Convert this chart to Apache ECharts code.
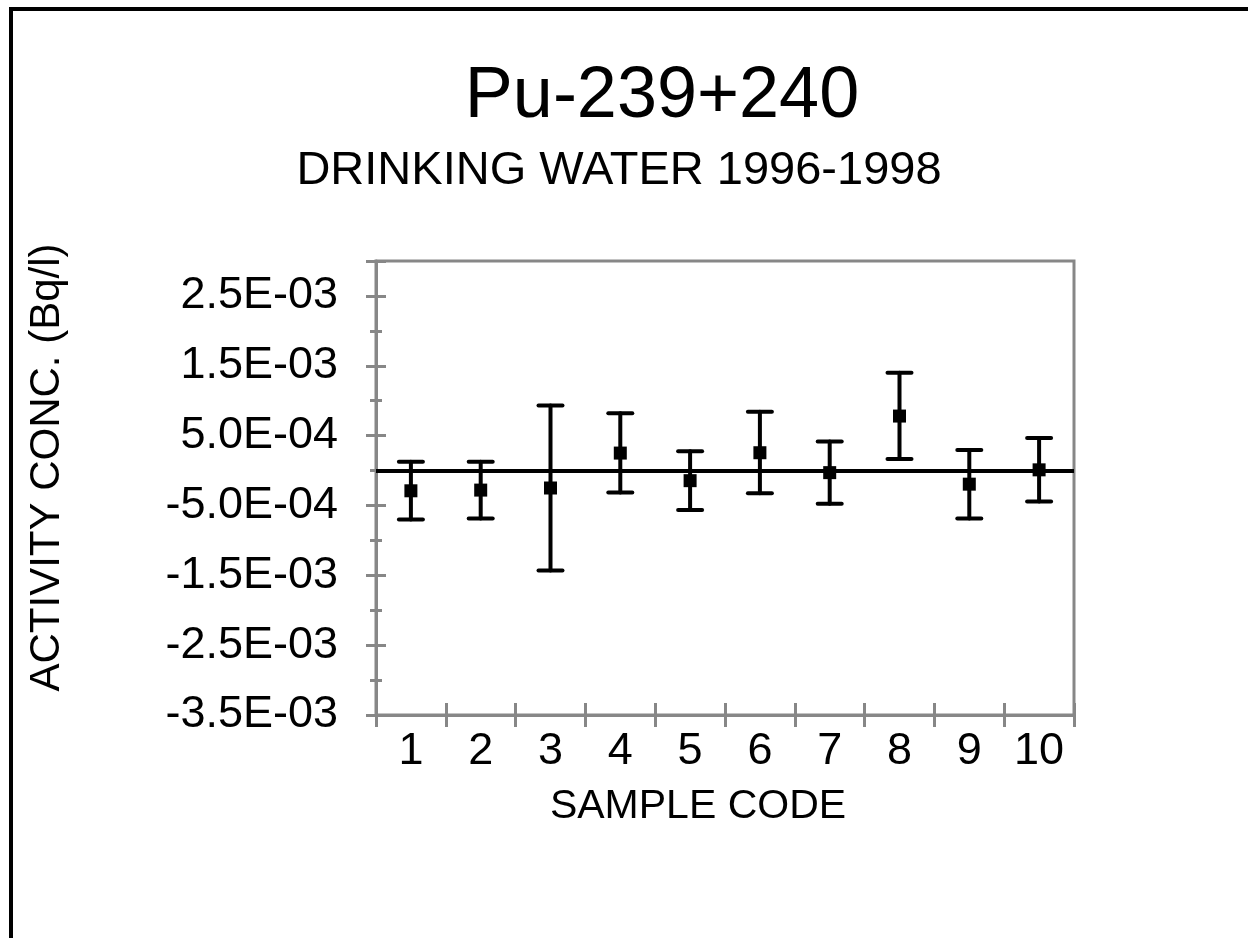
<!DOCTYPE html>
<html>
<head>
<meta charset="utf-8">
<script src="https://cdn.jsdelivr.net/npm/echarts@6/dist/echarts.min.js"></script>
<style>
html, body { margin: 0; padding: 0; background: #ffffff; }
#chart { width: 1248px; height: 938px; }
</style>
</head>
<body>
<div id="chart"></div>
<script>
// ---- data ----
var categories = ['1', '2', '3', '4', '5', '6', '7', '8', '9', '10'];
var values = [-2.9e-4, -2.8e-4, -2.5e-4, 2.5e-4, -1.45e-4, 2.55e-4, -3.0e-5, 7.8e-4, -1.95e-4, 1.0e-5];
var lower  = [-7.0e-4, -6.85e-4, -1.43e-3, -3.15e-4, -5.65e-4, -3.25e-4, -4.75e-4, 1.65e-4, -6.85e-4, -4.45e-4];
var upper  = [1.25e-4, 1.25e-4, 9.3e-4, 8.2e-4, 2.75e-4, 8.4e-4, 4.15e-4, 1.4e-3, 2.95e-4, 4.65e-4];
var yTickLabels = ['-3.5E-03', '-2.5E-03', '-1.5E-03', '-5.0E-04', '5.0E-04', '1.5E-03', '2.5E-03'];
var yMin = -0.0035, yMax = 0.003;

var FONT = 'Liberation Sans, Arial, Helvetica, sans-serif';
var GRAY = '#878787';

var errData = categories.map(function (c, i) { return [i, lower[i], upper[i]]; });

function yAxisBase(interval, inside, len, extra) {
  var a = {
    type: 'value', gridIndex: 0, position: 'left', min: yMin, max: yMax, interval: interval,
    axisLine: { show: false, onZero: false },
    axisTick: { show: true, inside: inside, length: len, lineStyle: { color: GRAY, width: 3 } },
    axisLabel: { show: false },
    splitLine: { show: false }
  };
  for (var k in extra) a[k] = extra[k];
  return a;
}

var chart = echarts.init(document.getElementById('chart'), null, { renderer: 'canvas' });
chart.setOption({
  animation: false,
  backgroundColor: '#ffffff',
  title: [
    { text: 'Pu-239+240', left: 657, top: 56, textAlign: 'center',
      textStyle: { fontFamily: FONT, fontSize: 72, lineHeight: 72, fontWeight: 'normal', color: '#000' } },
    { text: 'DRINKING WATER 1996-1998', left: 614, top: 143, textAlign: 'center',
      textStyle: { fontFamily: FONT, fontSize: 47, lineHeight: 47, fontWeight: 'normal', color: '#000' } }
  ],
  graphic: [
    { type: 'rect', shape: { x: 11, y: 9, width: 1400, height: 1100 },
      style: { fill: 'none', stroke: '#000', lineWidth: 4 }, silent: true }
  ],
  grid: { left: 376, right: 174, top: 261, bottom: 223, show: true,
    borderColor: GRAY, borderWidth: 3, backgroundColor: 'transparent' },
  xAxis: [
    { type: 'category', data: categories, boundaryGap: true, position: 'bottom',
      name: 'SAMPLE CODE', nameLocation: 'middle', nameGap: 71,
      nameTextStyle: { fontFamily: FONT, fontSize: 41, color: '#000', padding: [0, 54, 0, 0] },
      axisLine: { show: true, onZero: false, lineStyle: { color: GRAY, width: 3 } },
      axisTick: { show: true, inside: false, length: 12, alignWithLabel: false, lineStyle: { color: GRAY, width: 3 } },
      axisLabel: { fontFamily: FONT, fontSize: 45, color: '#000', margin: 14, interval: 0 },
      splitLine: { show: false } },
    { type: 'category', data: categories, boundaryGap: true, position: 'bottom',
      axisLine: { show: false, onZero: false },
      axisTick: { show: true, inside: true, length: 12, lineStyle: { color: GRAY, width: 3 } },
      axisLabel: { show: false }, splitLine: { show: false } }
  ],
  yAxis: [
    yAxisBase(0.0005, false, 6, {
      name: 'ACTIVITY CONC. (Bq/l)', nameLocation: 'middle', nameRotate: 90, nameGap: 308,
      nameTextStyle: { fontFamily: FONT, fontSize: 42, color: '#000', padding: [0, 0, 0, 41] },
      axisLine: { show: true, onZero: false, lineStyle: { color: GRAY, width: 3 } },
      axisLabel: { show: true, fontFamily: FONT, fontSize: 45, color: '#000', margin: 38,
        formatter: function (v) {
          var idx = Math.round((v - yMin) / 0.0005);
          if (idx % 2 !== 0) return '';
          return yTickLabels[idx / 2] || '';
        } }
    }),
    yAxisBase(0.001, false, 10, {}),
    yAxisBase(0.0005, true, 6, {}),
    yAxisBase(0.001, true, 10, {})
  ],
  series: [
    {
      type: 'custom', name: 'error', xAxisIndex: 0, yAxisIndex: 0, z: 3,
      data: errData,
      encode: { x: 0, y: [1, 2] },
      renderItem: function (params, api) {
        var x = api.value(0);
        var pHi = api.coord([x, api.value(2)]);
        var pLo = api.coord([x, api.value(1)]);
        var hw = 12;
        var st = { stroke: '#000', lineWidth: 4, lineCap: 'round' };
        return {
          type: 'group',
          children: [
            { type: 'line', shape: { x1: pHi[0], y1: pHi[1], x2: pLo[0], y2: pLo[1] }, style: st },
            { type: 'line', shape: { x1: pHi[0] - hw, y1: pHi[1], x2: pHi[0] + hw, y2: pHi[1] }, style: st },
            { type: 'line', shape: { x1: pLo[0] - hw, y1: pLo[1], x2: pLo[0] + hw, y2: pLo[1] }, style: st }
          ]
        };
      }
    },
    {
      type: 'scatter', name: 'Pu-239+240', xAxisIndex: 0, yAxisIndex: 0, z: 4,
      data: values, symbol: 'rect', symbolSize: 13,
      itemStyle: { color: '#000', opacity: 1 },
      markLine: {
        silent: true, symbol: ['none', 'none'], label: { show: false },
        lineStyle: { color: '#000', width: 4, type: 'solid', opacity: 1 },
        data: [{ yAxis: 0 }]
      }
    }
  ]
});
</script>
</body>
</html>
